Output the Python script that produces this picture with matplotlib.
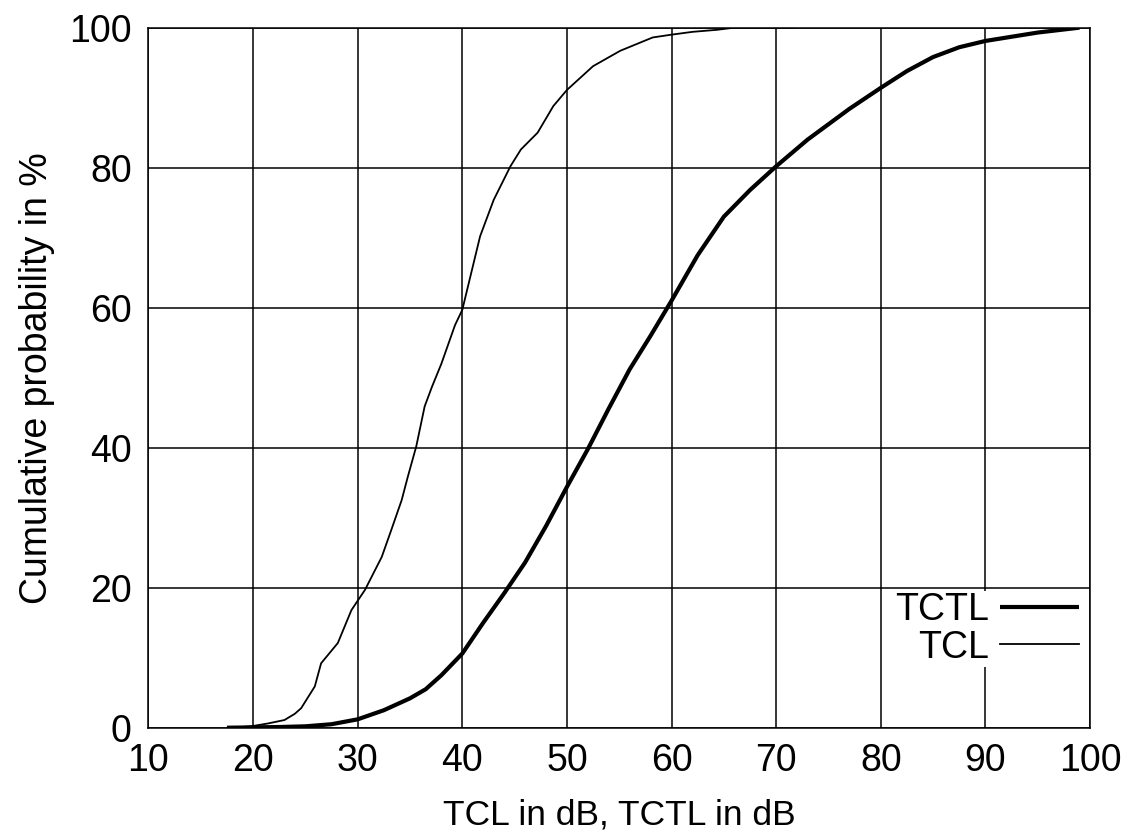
import matplotlib
matplotlib.use("Agg")
import matplotlib.pyplot as plt

# TCTL (thick curve)
tctl_x = [17.5, 20, 22.5, 25, 27.5, 30, 32.5, 35, 36.5, 38, 40, 42, 44, 46, 48, 50,
          52, 54, 56, 58, 60, 62.5, 65, 67.5, 70, 73, 77, 80, 82.5, 85, 87.5, 90, 95, 99]
tctl_y = [0, 0.05, 0.1, 0.2, 0.5, 1.2, 2.5, 4.2, 5.5, 7.5, 10.6, 15.0, 19.2, 23.6, 28.8, 34.4,
          39.8, 45.6, 51.2, 56.0, 61.0, 67.5, 73.0, 76.8, 80.2, 84.0, 88.4, 91.4, 93.8, 95.8,
          97.2, 98.1, 99.3, 100]

# TCL (thin curve)
tcl_x = [18, 19.8, 21.4, 23.0, 24.0, 24.6, 25.9, 26.5, 28.1, 29.4, 30.7, 32.3, 33.2, 34.2,
         34.8, 35.6, 36.4, 37.1, 38.0, 39.3, 40.0, 41.7, 43.0, 44.6, 45.6, 47.2, 48.7, 50.0,
         52.5, 55.1, 58.2, 60.0, 62.0, 64.4, 66.0, 71.7]
tcl_y = [0, 0.2, 0.6, 1.1, 2.0, 2.8, 5.9, 9.2, 12.1, 16.8, 19.7, 24.4, 28.2, 32.5,
         35.9, 40.2, 45.9, 48.7, 52.0, 57.5, 59.7, 70.2, 75.4, 80.2, 82.6, 85.0, 88.8, 91.1,
         94.5, 96.7, 98.6, 99.0, 99.4, 99.7, 100, 100]

x_ticks = list(range(10, 101, 10))
y_ticks = list(range(0, 101, 20))

plt.rcParams['font.family'] = ['Liberation Sans', 'DejaVu Sans']

fig = plt.figure(figsize=(11.36, 8.38), dpi=100)
ax = fig.add_axes([0.1307, 0.1316, 0.8288, 0.8354])

ax.plot(tctl_x, tctl_y, color='black', lw=3.0, label='TCTL', solid_capstyle='butt')
ax.plot(tcl_x, tcl_y, color='black', lw=1.3, label='TCL')

ax.set_xlim(10, 100)
ax.set_ylim(0, 100)
ax.set_xticks(x_ticks)
ax.set_yticks(y_ticks)
ax.tick_params(length=0, labelsize=27)
ax.tick_params(axis='x', pad=11)
ax.tick_params(axis='y', pad=12)
ax.grid(True, color='black', lw=1.1)
ax.set_axisbelow(True)
for s in ax.spines.values():
    s.set_linewidth(1.1)

ax.set_xlabel("TCL in dB, TCTL in dB", fontsize=25.5, labelpad=14)
ax.set_ylabel("Cumulative probability in %", fontsize=27, labelpad=10)

leg = ax.legend(loc='upper right', bbox_to_anchor=(0.99, 0.196), borderaxespad=0,
                markerfirst=False, fontsize=27, handlelength=2.1, handletextpad=0.3,
                labelspacing=0.03, borderpad=0.05, fancybox=False, framealpha=1,
                edgecolor='none', facecolor='white')

fig.savefig("out.png", dpi=100)
